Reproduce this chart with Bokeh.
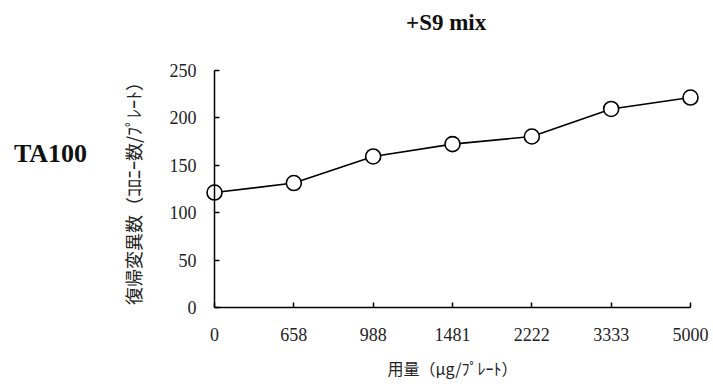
from bokeh.plotting import figure
from bokeh.models import Range1d, FixedTicker, Label
from bokeh.embed import file_html
from bokeh.resources import INLINE

# ---- data ----
doses = ["0", "658", "988", "1481", "2222", "3333", "5000"]
revertants = [121, 131, 159, 172, 180, 209, 221]
y_ticks = [0, 50, 100, 150, 200, 250]
title_text = "+S9 mix"
strain = "TA100"
x_label = "用量（μg/ﾌﾟﾚｰﾄ）"
y_label = "復帰変異数（ｺﾛﾆｰ数/ﾌﾟﾚｰﾄ）"

xs = list(range(len(doses)))
n = len(doses) - 1

p = figure(frame_width=712, frame_height=388, output_backend="svg",
           toolbar_location=None,
           x_range=Range1d(-2.6975, 6.2773), y_range=Range1d(-85.26, 323.16),
           min_border=0, min_border_left=0, min_border_top=0,
           min_border_right=0, min_border_bottom=0)
p.outline_line_color = None
p.xgrid.grid_line_color = None
p.ygrid.grid_line_color = None
p.background_fill_color = "white"
p.border_fill_color = "white"

serif = "Liberation Serif"
jp = "Noto Sans CJK JP"

p.xaxis.ticker = FixedTicker(ticks=xs)
p.xaxis.major_label_overrides = {i: d for i, d in enumerate(doses)}
p.xaxis.bounds = (0, n)
p.xaxis.fixed_location = 0
p.yaxis.ticker = FixedTicker(ticks=y_ticks)
p.yaxis.bounds = (0, 250)
p.yaxis.fixed_location = 0
for ax in (p.xaxis, p.yaxis):
    ax.major_tick_in = 5
    ax.major_tick_out = 0
    ax.minor_tick_line_color = None
    ax.axis_line_color = "black"
    ax.axis_line_width = 1.5
    ax.major_tick_line_color = "black"
    ax.major_tick_line_width = 1.5
    ax.major_label_text_font = serif
    ax.major_label_text_font_size = "18px"
    ax.major_label_text_color = "#222222"
    ax.axis_label_text_font = jp
    ax.axis_label_text_font_style = "normal"
    ax.axis_label_text_color = "#222222"

p.xaxis.axis_label_text_font_size = "16px"
p.yaxis.axis_label_text_font_size = "18px"
p.xaxis.major_label_standoff = 20
p.yaxis.major_label_standoff = 18
p.xaxis.axis_label = x_label
p.yaxis.axis_label = y_label
p.xaxis.axis_label_standoff = 12
p.yaxis.axis_label_standoff = 21

p.line(xs, revertants, line_color="black", line_width=1.6)
p.scatter(xs, revertants, size=15, fill_color="white", line_color="black",
          line_width=1.6)

p.add_layout(Label(x=2.92, y=300, text=title_text, text_font=serif,
                   text_font_style="bold", text_font_size="23px",
                   text_align="center", text_baseline="middle",
                   text_color="#111111"))
p.add_layout(Label(x=-2.067, y=162, text=strain, text_font=serif,
                   text_font_style="bold", text_font_size="26px",
                   text_align="center", text_baseline="middle",
                   text_color="#111111"))

open("out.html", "w").write(file_html(p, INLINE))
